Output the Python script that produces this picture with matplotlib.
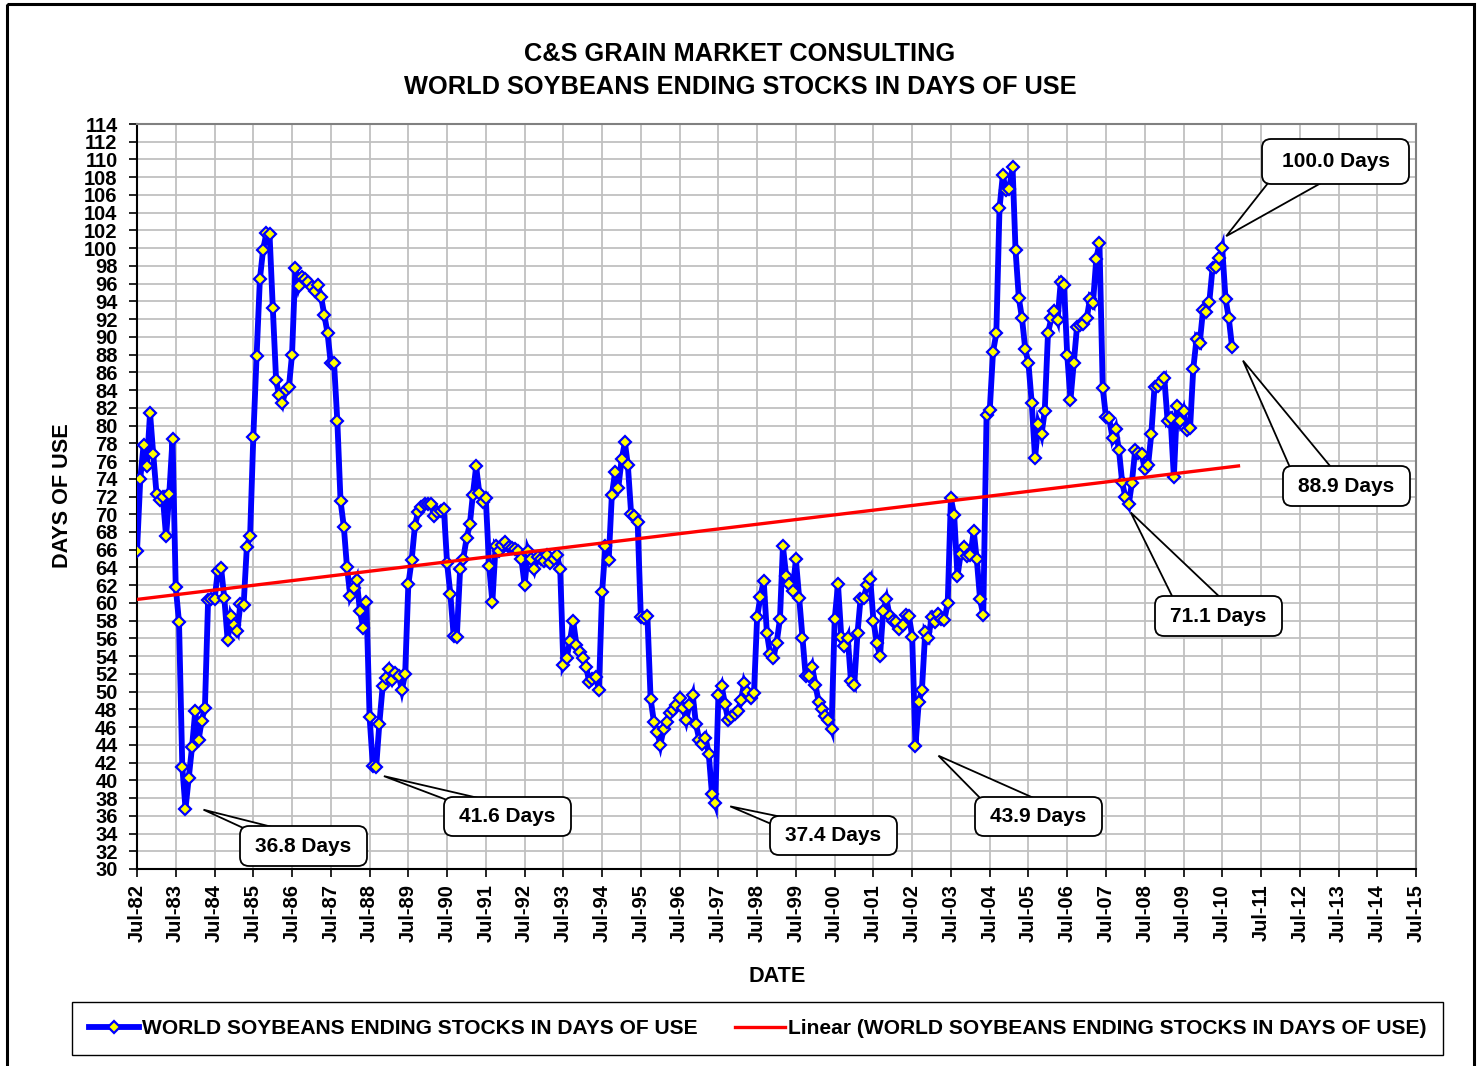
import matplotlib
matplotlib.use('Agg')
import matplotlib.pyplot as plt
import matplotlib.dates as mdates
from matplotlib.patches import FancyBboxPatch, Polygon, Rectangle
from matplotlib.lines import Line2D
from matplotlib.transforms import Affine2D
import numpy as np
import pandas as pd

plt.rcParams['font.family'] = ['Liberation Sans', 'DejaVu Sans']
plt.rcParams['font.weight'] = 'bold'

W, H = 1482, 1066

# monthly world soybean ending stocks in days of use, starting Jul-82
start_month = '1982-07-01'
days_of_use = [
    65.8, 74.0, 77.8, 75.4, 81.4, 76.8, 72.3, 71.6, 72.0, 67.5, 72.3, 78.5,   # 82/83
    61.8, 57.8, 41.5, 36.8, 40.3, 43.7, 47.8, 44.5, 46.7, 48.2, 60.3, 60.4,   # 83/84
    60.4, 63.6, 63.9, 60.5, 55.8, 58.5, 57.5, 56.8, 59.9, 59.8, 66.3, 67.6,   # 84/85
    78.7, 87.8, 96.5, 99.8, 101.7, 101.6, 93.2, 85.1, 83.4, 82.5, 84.0, 84.3, # 85/86
    88.0, 97.8, 95.7, 96.8, 96.5, 96.2, 95.6, 95.2, 95.8, 94.5, 92.5, 90.4,   # 86/87
    87.0, 87.0, 80.5, 71.5, 68.6, 64.0, 60.8, 61.7, 62.6, 59.1, 57.2, 60.1,   # 87/88
    47.1, 41.6, 41.5, 46.4, 50.6, 51.5, 52.5, 51.3, 52.1, 51.8, 50.2, 52.0,   # 88/89
    62.1, 64.8, 68.7, 70.3, 70.8, 71.2, 71.2, 71.1, 69.8, 70.2, 70.4, 70.6,   # 89/90
    64.5, 61.0, 56.3, 56.2, 63.8, 65.0, 67.3, 68.9, 72.2, 75.4, 72.4, 71.4,   # 90/91
    71.8, 64.2, 60.1, 66.4, 65.9, 66.5, 66.9, 66.3, 66.2, 66.1, 65.9, 64.9,   # 91/92
    62.0, 65.9, 64.9, 63.8, 65.2, 64.9, 64.7, 65.4, 64.5, 65.0, 65.4, 63.8,   # 92/93
    53.0, 53.8, 55.7, 58.0, 55.3, 54.5, 53.8, 52.8, 51.1, 51.4, 51.7, 50.2,   # 93/94
    61.2, 66.4, 64.8, 72.2, 74.8, 73.0, 76.2, 78.1, 75.5, 70.0, 69.8, 69.1,   # 94/95
    58.4, 58.3, 58.5, 49.2, 46.6, 45.5, 44.0, 45.8, 46.6, 47.6, 47.9, 48.5,   # 95/96
    49.3, 48.2, 46.8, 48.5, 49.6, 46.4, 44.6, 44.1, 44.8, 43.0, 38.5, 37.4,   # 96/97
    49.6, 50.6, 48.6, 46.8, 47.1, 47.5, 47.8, 49.1, 51.0, 50.0, 49.3, 49.8,   # 97/98
    58.4, 60.7, 62.5, 56.6, 54.2, 53.8, 55.5, 58.2, 66.4, 63.0, 62.1, 61.4,   # 98/99
    64.9, 60.6, 56.1, 51.8, 51.8, 52.8, 50.8, 48.8, 48.0, 47.2, 46.8, 45.8,   # 99/00
    58.2, 62.1, 56.2, 55.2, 56.1, 51.2, 50.7, 56.6, 60.4, 60.6, 62.0, 62.7,   # 00/01
    58.0, 55.5, 54.0, 59.1, 60.4, 58.5, 58.0, 57.9, 57.1, 57.5, 58.6, 58.5,   # 01/02
    56.2, 43.9, 48.8, 50.2, 56.7, 56.1, 58.4, 57.9, 58.8, 58.2, 58.1, 60.0,   # 02/03
    71.8, 69.9, 63.0, 65.5, 66.3, 65.3, 65.4, 68.1, 64.9, 60.4, 58.6, 81.2,   # 03/04
    81.7, 88.3, 90.4, 104.5, 108.2, 106.6, 106.7, 109.2, 99.8, 94.4, 92.1, 88.6,  # 04/05
    87.0, 82.5, 76.3, 80.2, 79.0, 81.6, 90.4, 92.1, 92.9, 91.9, 96.2, 95.8,   # 05/06
    88.0, 82.9, 87.1, 91.1, 91.3, 91.5, 92.1, 94.3, 93.8, 98.8, 100.6, 84.2,  # 06/07
    81.0, 80.8, 78.6, 79.6, 77.2, 73.6, 71.9, 71.1, 73.5, 77.2, 76.9, 76.8,   # 07/08
    75.1, 75.5, 79.1, 84.4, 84.5, 84.9, 85.4, 80.5, 80.9, 74.2, 82.2, 80.5,   # 08/09
    81.6, 79.5, 79.7, 86.4, 89.8, 89.3, 93.0, 92.8, 93.9, 97.8, 97.9, 98.9,   # 09/10
    100.0, 94.3, 92.1, 88.9,                                                  # 10/11
]
dates = pd.date_range(start_month, periods=len(days_of_use), freq='MS')

tick_years = list(range(1982, 2016))
tick_dates = pd.to_datetime([f'{y}-07-01' for y in tick_years])
tick_labels = [f'Jul-{y % 100:02d}' for y in tick_years]
y_ticks = list(range(30, 115, 2))

series_name = 'WORLD SOYBEANS ENDING STOCKS IN DAYS OF USE'
trend_name = 'Linear (WORLD SOYBEANS ENDING STOCKS IN DAYS OF USE)'

# callouts: label, index of the month it points at
callout_labels = ['36.8 Days', '41.6 Days', '37.4 Days', '43.9 Days',
                  '71.1 Days', '88.9 Days', '100.0 Days']
callout_index = [15, 73, 179, 241, 307, 339, 336]
# layout of callouts in pixels (top-left origin): box, wedge base, apex offset
callout_boxes = [(240, 826, 367, 866), (444, 797, 571, 836), (770, 816, 897, 855),
                 (975, 797, 1102, 836), (1155, 596, 1282, 636), (1283, 466, 1410, 506),
                 (1262, 139, 1409, 184)]
callout_bases = [((252, 832), (292, 832)), ((455, 803), (500, 803)), ((776, 826), (806, 822)),
                 ((985, 803), (1045, 803)), ((1175, 602), (1225, 602)), ((1292, 472), (1335, 472)),
                 ((1272, 178), (1330, 178))]
callout_offsets = [(18, 1), (11, 10), (15, 3), (23, 10), (2, 8), (11, 14), (4, -12)]

fig = plt.figure(figsize=(W / 100, H / 100), dpi=100)
ax = fig.add_axes([137 / W, 1 - 869 / H, (1416 - 137) / W, (869 - 124) / H])
pix = Affine2D().scale(1.0 / W, -1.0 / H).translate(0, 1) + fig.transFigure

x = mdates.date2num(dates)
ax.plot(dates, days_of_use, color='#0000FF', lw=4.2, solid_joinstyle='miter',
        marker='D', ms=6.6, mfc='#FFFF00', mec='#0000FF', mew=1.6, zorder=3)

# linear trend like Excel's trendline
m, b = np.polyfit(x, days_of_use, 1)
trend_end = dates[-1] + pd.DateOffset(months=2)
tx = np.array([x[0], mdates.date2num(trend_end)])
ax.plot(mdates.num2date(tx), m * tx + b, color='#FF0000', lw=2.4, zorder=4)

ax.set_xlim(tick_dates[0], tick_dates[-1])
ax.set_ylim(30, 114)
ax.set_xticks(tick_dates)
ax.set_xticklabels(tick_labels, rotation=90, fontsize=14.5, fontweight='bold')
ax.set_yticks(y_ticks)
ax.set_yticklabels([str(v) for v in y_ticks], fontsize=14.5, fontweight='bold')
ax.tick_params(axis='y', direction='out', length=6, width=1.2, pad=8)
ax.tick_params(axis='x', direction='out', length=6, width=1.2, pad=5)
ax.grid(True, color='#C0C0C0', lw=1.3)
ax.set_axisbelow(True)
for side in ['top', 'right']:
    ax.spines[side].set_color('#808080')
    ax.spines[side].set_linewidth(1.5)
for side in ['left', 'bottom']:
    ax.spines[side].set_color('black')
    ax.spines[side].set_linewidth(1.5)

fig.text(740 / W, 1 - 54 / H, 'C&S GRAIN MARKET CONSULTING', ha='center', va='center',
         fontsize=18.3, fontweight='bold')
fig.text(740 / W, 1 - 87 / H, 'WORLD SOYBEANS ENDING STOCKS IN DAYS OF USE', ha='center',
         va='center', fontsize=18.3, fontweight='bold')
fig.text(62 / W, 1 - 496 / H, 'DAYS OF USE', rotation=90, ha='center', va='center',
         fontsize=15.6, fontweight='bold')
fig.text(777 / W, 1 - 977 / H, 'DATE', ha='center', va='center', fontsize=15.6,
         fontweight='bold')

# callout boxes
fig.canvas.draw()
for label, i, box, base, off in zip(callout_labels, callout_index, callout_boxes,
                                    callout_bases, callout_offsets):
    dx, dy = ax.transData.transform((x[i], days_of_use[i]))
    apex = (dx + off[0], H - dy + off[1])
    wedge = Polygon([base[0], apex, base[1]], closed=True, fc='white', ec='black',
                    lw=1.3, transform=pix, zorder=5)
    fig.add_artist(wedge)
    x0, y0, x1, y1 = box
    patch = FancyBboxPatch((x0, y0), x1 - x0, y1 - y0,
                           boxstyle='round,pad=0,rounding_size=9', fc='white',
                           ec='black', lw=1.3, transform=pix, zorder=6)
    fig.add_artist(patch)
    fig.text((x0 + x1) / 2 / W, 1 - (y0 + y1) / 2 / H, label, ha='center', va='center',
             fontsize=15, fontweight='bold', zorder=7)

handles = [Line2D([], [], color='#0000FF', lw=4.2, marker='D', ms=6.6, mfc='#FFFF00',
                  mec='#0000FF', mew=1.6),
           Line2D([], [], color='#FF0000', lw=2.4)]
leg = fig.legend(handles, [series_name, trend_name], loc='center',
                 bbox_to_anchor=(757.5 / W, 1 - 1028.5 / H), ncol=2, frameon=True,
                 fancybox=False, edgecolor='black', framealpha=1,
                 prop={'size': 15.1, 'weight': 'bold'}, handlelength=2.4,
                 handletextpad=0.12, columnspacing=1.8, borderpad=0.8)
leg.get_frame().set_linewidth(1.0)

# outer chart border
border = Rectangle((7, 4), 1474 - 7, 1080, fill=False, ec='black', lw=2.2,
                   transform=pix, clip_on=False, zorder=1)
fig.add_artist(border)

fig.savefig('out.png', dpi=100)
